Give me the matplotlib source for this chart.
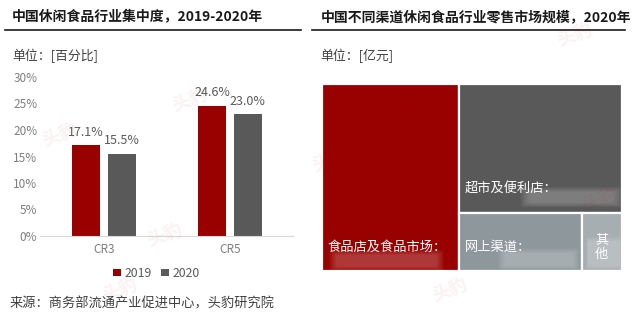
import matplotlib.pyplot as plt
from matplotlib.patches import Rectangle, FancyBboxPatch

plt.rcParams['font.family'] = ['Noto Sans CJK SC', 'DejaVu Sans']

# 行业集中度
categorias = ['CR3', 'CR5']
anios = ['2019', '2020']
cr_2019 = [17.1, 24.6]
cr_2020 = [15.5, 23.0]
ticks_y = [0, 5, 10, 15, 20, 25, 30]

# 各渠道零售规模（亿元）
canales = ['食品店及食品市场', '超市及便利店', '网上渠道', '其他']
ventas = [3550, 2890, 985, 325]

ROJO = '#990000'
GRIS = '#595959'
colores_canal = [ROJO, GRIS, '#8E979C', '#A7AEB2']

W, H = 641, 323
fig = plt.figure(figsize=(W / 100, H / 100), dpi=100)


def fx(x):
    return x / W


def fy(y):
    return 1 - y / H


# marcas de agua
for (x, y) in [(60, 135), (190, 100), (165, 235), (330, 160), (400, 115), (575, 35), (450, 290), (600, 200), (120, 290)]:
    fig.text(fx(x), fy(y), '头豹', fontsize=13, color='#cc0000', alpha=0.06,
             rotation=20, ha='center', va='center', fontweight='bold')

# títulos con subrayado
fig.text(fx(12), fy(17), '中国休闲食品行业集中度，2019-2020年', fontsize=10,
         ha='left', va='center', color='#1a1a1a', fontweight='bold')
fig.text(fx(321), fy(17), '中国不同渠道休闲食品行业零售市场规模，2020年', fontsize=10,
         ha='left', va='center', color='#1a1a1a', fontweight='bold')
fig.add_artist(plt.Line2D([fx(5), fx(301)], [fy(30), fy(30)], color='#1a1a1a', lw=1.2))
fig.add_artist(plt.Line2D([fx(312), fx(625)], [fy(30), fy(30)], color='#1a1a1a', lw=1.2))

fig.text(fx(12), fy(56), '单位：[百分比]', fontsize=9.3, ha='left', va='center', color='#404040')
fig.text(fx(320), fy(56), '单位：[亿元]', fontsize=9.3, ha='left', va='center', color='#404040')

# --- barras ---
ax = fig.add_axes([fx(40), fy(236), fx(293 - 40), (236 - 77) / H])
xs = range(len(categorias))
ancho = 0.22
desp = 0.142
b1 = ax.bar([x - desp for x in xs], cr_2019, width=ancho, color=ROJO, label=anios[0])
b2 = ax.bar([x + desp for x in xs], cr_2020, width=ancho, color=GRIS, label=anios[1])
for barras in (b1, b2):
    for b in barras:
        ax.text(b.get_x() + b.get_width() / 2, b.get_height() + 1.2, f'{b.get_height():.1f}%',
                ha='center', va='bottom', fontsize=9, color='#595959')
ax.set_xlim(-0.508, 1.5)
ax.set_ylim(0, 30)
ax.set_yticks(ticks_y)
ax.set_yticklabels([f'{t}%' for t in ticks_y])
ax.set_xticks(list(xs))
ax.set_xticklabels(categorias)
ax.tick_params(length=0, labelsize=8.5, colors='#7f7f7f', pad=2)
ax.tick_params(axis='x', pad=5)
for s in ('top', 'right', 'left'):
    ax.spines[s].set_visible(False)
ax.spines['bottom'].set_color('#d9d9d9')
ax.patch.set_alpha(0)
ax.legend(loc='center', bbox_to_anchor=(0.46, -0.235), ncol=2, frameon=False, fontsize=8.8,
          handlelength=0.6, handleheight=0.6, handletextpad=0.3, columnspacing=0.8,
          labelcolor='#595959')

# --- treemap ---
tm = fig.add_axes([fx(322), fy(271), fx(300), 187 / H])
tm.set_xlim(0, 1)
tm.set_ylim(0, 1)
tm.axis('off')
total = sum(ventas)
resto = total - ventas[0]
w0 = ventas[0] / total
abajo = ventas[2] + ventas[3]
h_bajo = abajo / resto
rects = [
    (0, 0, w0, 1),
    (w0, h_bajo, 1 - w0, 1 - h_bajo),
    (w0, 0, (1 - w0) * ventas[2] / abajo, h_bajo),
    (w0 + (1 - w0) * ventas[2] / abajo, 0, (1 - w0) * ventas[3] / abajo, h_bajo),
]
for (x, y, w, h), c in zip(rects, colores_canal):
    tm.add_patch(Rectangle((x, y), w, h, facecolor=c, edgecolor='white', lw=1.6, zorder=1))

# franjas difuminadas: varias capas con poca opacidad
halos = [(0.08, 0.01, 0.78, 0.09), (0.40, 0.06, 0.58, 0.12), (0.35, 0.05, 0.60, 0.30), (0.2, 0.05, 0.7, 0.5)]
for (x, y, w, h), (rx, ry, rw, rh) in zip(rects, halos):
    for k in range(5):
        s = k * 0.012
        tm.add_patch(FancyBboxPatch((x + (rx + s) * w, y + ry * h + s * 0.5),
                                    (rw - 2 * s) * w, rh * h - s,
                                    boxstyle='round,pad=0.012', facecolor='white',
                                    edgecolor='none', alpha=0.05, zorder=2))

lab_y = 24 / 187
textos = [canales[0] + '：', canales[1] + '：', canales[2] + '：', '其\n他']
for i, ((x, y, w, h), t) in enumerate(zip(rects, textos)):
    tx = x + 5 / 300 if i < 3 else x + w / 2
    tm.text(tx, y + lab_y, t, ha='left' if i < 3 else 'center', va='center',
            fontsize=9.5, color='white', linespacing=1.1, zorder=3)

fig.text(fx(10), fy(304), '来源：商务部流通产业促进中心，头豹研究院', fontsize=9.5,
         ha='left', va='center', color='#404040')

fig.savefig('out.png', dpi=100)
